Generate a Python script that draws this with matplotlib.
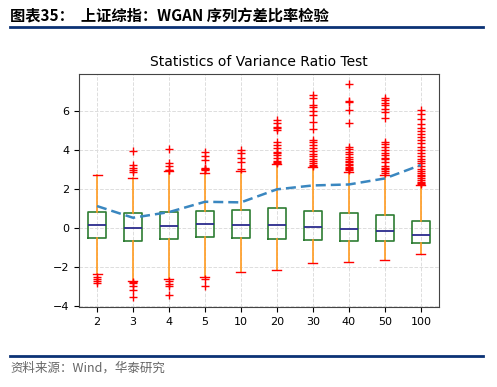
import matplotlib
matplotlib.use("Agg")
import matplotlib.pyplot as plt
from matplotlib.lines import Line2D

plt.rcParams['font.family'] = ['DejaVu Sans', 'Noto Sans CJK SC']

labels = ["2", "3", "4", "5", "10", "20", "30", "40", "50", "100"]
q1 = [-0.50, -0.67, -0.56, -0.45, -0.50, -0.56, -0.62, -0.67, -0.67, -0.79]
med = [0.15, 0.00, 0.10, 0.22, 0.15, 0.15, 0.07, -0.05, -0.17, -0.38]
q3 = [0.81, 0.75, 0.81, 0.87, 0.92, 1.01, 0.89, 0.75, 0.65, 0.38]
whislo = [-2.37, -2.71, -2.64, -2.50, -2.26, -2.16, -1.82, -1.76, -1.66, -1.35]
whishi = [2.71, 2.59, 2.95, 2.81, 2.95, 3.27, 3.15, 2.90, 2.72, 2.21]
fliers = [
    [-2.53, -2.62, -2.71, -2.84],
    [3.96, 3.24, 3.10, 2.98, 2.90, -2.75, -2.80, -2.98, -3.19, -3.56],
    [4.08, 3.33, 3.20, 3.00, 2.98, -2.72, -2.85, -3.00, -3.46],
    [3.90, 3.72, 3.50, 3.10, 3.06, 3.02, 2.98, -2.60, -2.98],
    [4.03, 3.88, 3.61, 3.40, 3.05],
    [5.55, 5.38, 5.20, 5.12, 5.04, 4.44, 4.27, 4.10, 3.92, 3.85, 3.75,
     3.58, 3.46, 3.40, 3.33],
    [6.84, 6.70, 6.32, 6.20, 6.02, 5.81, 5.47, 5.07, 4.52, 4.42, 4.27,
     4.10, 3.95, 3.80, 3.70, 3.55, 3.45, 3.35, 3.25, 3.20],
    [7.40, 6.53, 6.47, 6.07, 5.38, 4.15, 4.05, 3.92, 3.80, 3.65, 3.55,
     3.45, 3.38, 3.30, 3.22, 3.15, 3.10, 3.02, 2.96],
    [6.70, 6.60, 6.45, 6.30, 6.10, 5.95, 5.64, 4.44, 4.30, 4.15, 4.00,
     3.85, 3.75, 3.62, 3.55, 3.40, 3.20, 3.10, 3.02, 2.95, 2.85],
    [6.07, 5.87, 5.60, 5.33, 5.15, 5.00, 4.85, 4.70, 4.50, 4.35, 4.15,
     4.00, 3.85, 3.70, 3.55, 3.45, 3.32, 3.18, 3.05, 2.95, 2.85, 2.75,
     2.65, 2.55, 2.45, 2.38, 2.30, 2.25],
]
ratio = [1.13, 0.53, 0.82, 1.35, 1.32, 1.99, 2.19, 2.24, 2.55, 3.24]

fig = plt.figure(figsize=(4.97, 3.87), dpi=100)

# header and footer
fig.text(0.02, 0.958, "图表35：  上证综指：WGAN 序列方差比率检验",
         fontsize=11, fontweight="bold", family=["Noto Sans CJK SC"],
         va="center", ha="left")
fig.add_artist(Line2D([0.02, 0.972], [0.929, 0.929], color="#0b3275", lw=2))
fig.add_artist(Line2D([0.02, 0.972], [0.080, 0.080], color="#0b3275", lw=2))
fig.text(0.02, 0.049, "资料来源：Wind，华泰研究", fontsize=9, color="#666666",
         family=["Noto Sans CJK SC"], va="center", ha="left")

ax = fig.add_axes([0.159, 0.207, 0.724, 0.602])

stats = []
for i in range(len(labels)):
    stats.append(dict(med=med[i], q1=q1[i], q3=q3[i], whislo=whislo[i],
                      whishi=whishi[i], fliers=fliers[i], label=labels[i]))

ax.bxp(stats, positions=range(1, len(labels) + 1), widths=0.5,
       boxprops=dict(color="#2e7d32", linewidth=1.2),
       medianprops=dict(color="#2b2b8c", linewidth=1.3),
       whiskerprops=dict(color="#ff9a1f", linewidth=1.2),
       capprops=dict(color="red", linewidth=1.0),
       flierprops=dict(marker="+", markeredgecolor="red", markersize=6,
                       linestyle="none"))

ax.plot(range(1, len(labels) + 1), ratio, linestyle="--", color="#3a87c0",
        linewidth=1.8, dashes=(4, 2))

ax.set_xlim(0.5, len(labels) + 0.5)
ax.set_ylim(-4.05, 7.92)
ax.set_yticks([-4, -2, 0, 2, 4, 6])
ax.grid(True, linestyle="--", color="#dddddd", linewidth=0.7)
ax.set_axisbelow(True)
ax.tick_params(labelsize=8)
for s in ax.spines.values():
    s.set_color("#444444")
ax.set_title("Statistics of Variance Ratio Test", fontsize=10, pad=6)

fig.savefig("out.png", dpi=100)
